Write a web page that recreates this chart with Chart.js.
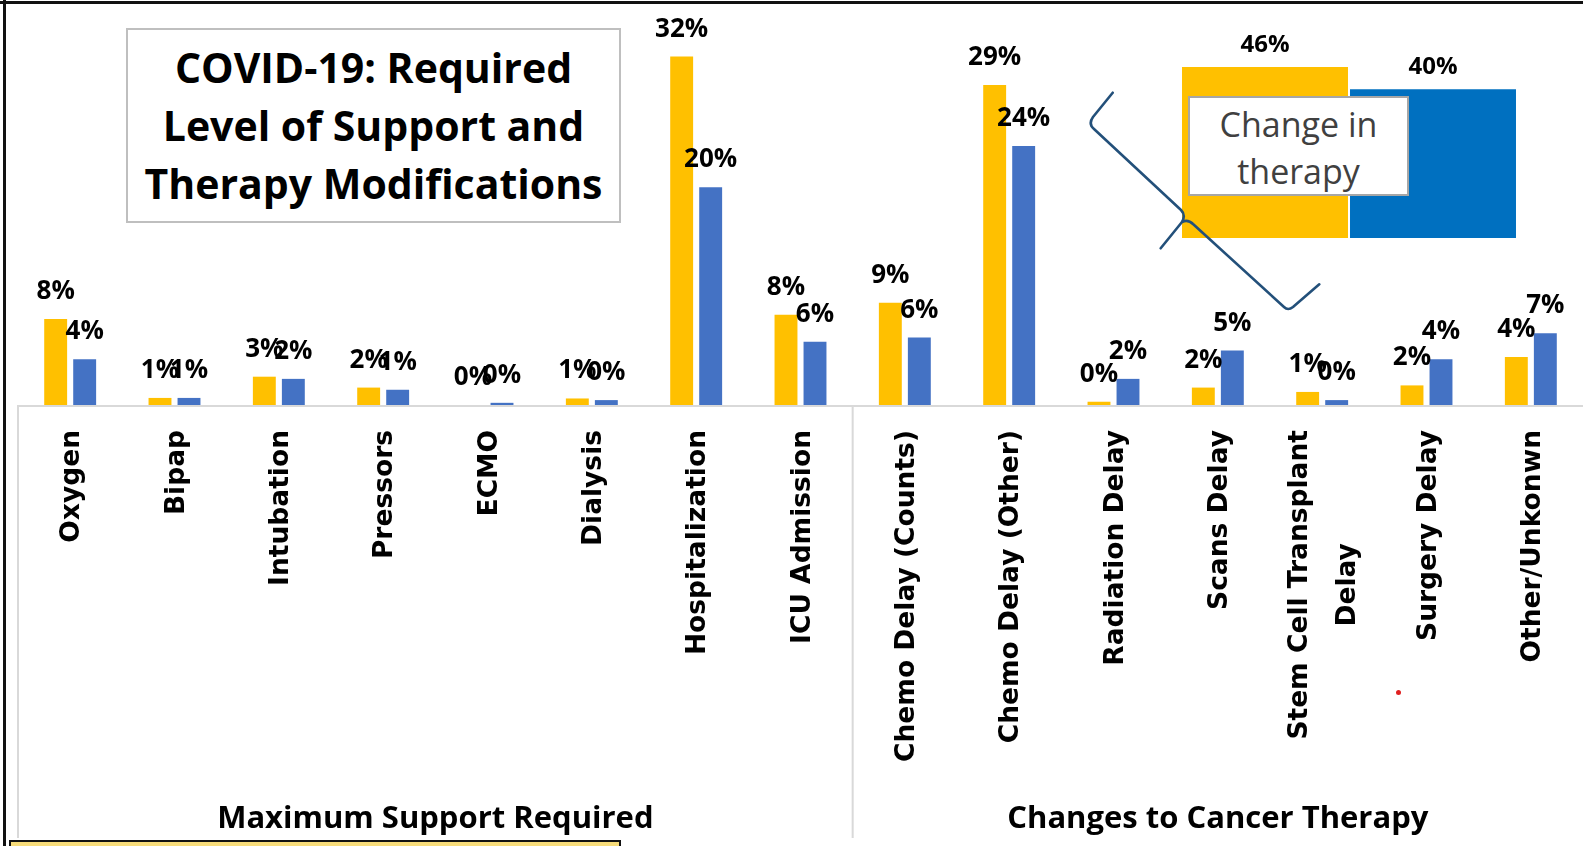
<!DOCTYPE html>
<html>
<head>
<meta charset="utf-8">
<script src="https://cdn.jsdelivr.net/npm/chart.js@4.4.0/dist/chart.umd.min.js"></script>
<style>
html,body{margin:0;padding:0;background:#fff;}
body{width:1583px;height:846px;position:relative;overflow:hidden;}
#main{position:absolute;left:0;top:0;}
#inset{position:absolute;left:1181px;top:20px;}
.frameTop{position:absolute;left:0;top:1px;width:1583px;height:3px;background:#111;}
.frameLeft{position:absolute;left:3px;top:0;width:3px;height:846px;background:#111;}
.titleBox{position:absolute;left:126px;top:28px;width:495px;height:195px;box-sizing:border-box;border:2px solid #BFBFBF;background:#fff;font-family:'Open Sans',sans-serif;font-weight:700;font-size:41px;line-height:58px;text-align:center;color:#000;padding-top:8px;}
.changeBox{position:absolute;left:1188px;top:96px;width:221px;height:100px;box-sizing:border-box;border:2px solid #A6A6A6;background:#fff;font-family:'Open Sans',sans-serif;font-size:34px;line-height:47px;text-align:center;color:#404040;padding-top:3px;}
.note{position:absolute;left:9px;top:840px;width:612px;height:20px;box-sizing:border-box;border:2px solid #111;background:#F7DC7A;}
.dot{position:absolute;left:1396px;top:690px;width:5px;height:5px;border-radius:50%;background:#E02020;}
#brace{position:absolute;left:0;top:0;}
</style>
</head>
<body>
<canvas id="main" width="1583" height="846"></canvas>
<div class="titleBox">COVID-19: Required<br>Level of Support and<br>Therapy Modifications</div>
<canvas id="inset" width="336" height="218"></canvas>
<div class="changeBox">Change in<br>therapy</div>
<svg id="brace" width="1583" height="846">
  <path d="M1112.7 92.7 L1093 117 Q1088 124 1094 129 L1181 210 Q1186 215 1182 222 L1160.7 248.3 M1182 222 Q1188 219 1193 224 L1284 307 Q1288 311 1293 307 L1319.3 284.3" fill="none" stroke="#23507A" stroke-width="2.6" stroke-linejoin="round" stroke-linecap="round"/>
</svg>
<div class="dot"></div>
<div class="frameTop"></div>
<div class="frameLeft"></div>
<div class="note"></div>
<script>
// ---- data ----
const categories = [
  'Oxygen', 'Bipap', 'Intubation', 'Pressors', 'ECMO', 'Dialysis',
  'Hospitalization', 'ICU Admission',
  'Chemo Delay (Counts)', 'Chemo Delay (Other)', 'Radiation Delay', 'Scans Delay',
  ['Stem Cell Transplant', 'Delay'], 'Surgery Delay', 'Other/Unkonwn'
];
const series1Name = 'Group 1';
const series2Name = 'Group 2';
const series1Values = [7.9, 0.65, 2.6, 1.6, 0, 0.6, 32.0, 8.3, 9.4, 29.4, 0.3, 1.6, 1.2, 1.8, 4.4];
const series2Values = [4.2, 0.65, 2.4, 1.4, 0.2, 0.45, 20.0, 5.8, 6.2, 23.8, 2.4, 5.0, 0.45, 4.2, 6.6];
const groupNames = ['Maximum Support Required', 'Changes to Cancer Therapy'];
const groupSpans = [[0, 7], [8, 14]];
const insetCategories = ['Group 1', 'Group 2'];
const insetValues = [46, 40];

const YELLOW = '#FFC000', BLUE = '#4472C4', INSET_BLUE = '#0070C0';

const overlayPlugin = {
  id: 'overlay',
  afterDatasetsDraw(chart) {
    const ctx = chart.ctx, xs = chart.scales.x, area = chart.chartArea;
    const catW = (area.right - area.left) / categories.length;
    ctx.save();
    // axis lines
    ctx.strokeStyle = '#D9D9D9';
    ctx.lineWidth = 2;
    ctx.beginPath();
    ctx.moveTo(area.left, area.bottom + 1);
    ctx.lineTo(area.right, area.bottom + 1);
    ctx.moveTo(area.left, area.bottom);
    ctx.lineTo(area.left, 838);
    const bx = (xs.getPixelForValue(groupSpans[0][1]) + xs.getPixelForValue(groupSpans[1][0])) / 2;
    ctx.moveTo(bx, area.bottom);
    ctx.lineTo(bx, 838);
    ctx.stroke();

    // data labels
    ctx.fillStyle = '#000';
    ctx.font = '700 26px "Open Sans"';
    ctx.textAlign = 'center';
    ctx.textBaseline = 'alphabetic';
    chart.data.datasets.forEach((ds, di) => {
      chart.getDatasetMeta(di).data.forEach((bar, i) => {
        ctx.fillText(Math.round(ds.data[i]) + '%', bar.x, bar.y - 20);
      });
    });

    // category tick labels (rotated)
    ctx.font = '700 26.5px "DejaVu Sans"';
    categories.forEach((lab, i) => {
      const x = xs.getPixelForValue(i);
      const lines = Array.isArray(lab) ? lab : [lab];
      ctx.save();
      ctx.translate(x, 430);
      ctx.rotate(-Math.PI / 2);
      if (lines.length === 1) {
        ctx.textAlign = 'right';
        ctx.fillText(lines[0], 0, 9);
      } else {
        const w = Math.max(...lines.map(l => ctx.measureText(l).width));
        ctx.textAlign = 'center';
        lines.forEach((l, k) => {
          ctx.fillText(l, -w / 2, 9 + (k - (lines.length - 1) / 2) * 48);
        });
      }
      ctx.restore();
    });

    // group labels
    ctx.font = '700 31px "Open Sans"';
    ctx.textAlign = 'center';
    groupNames.forEach((g, k) => {
      const l = xs.getPixelForValue(groupSpans[k][0]) - catW / 2;
      const r = xs.getPixelForValue(groupSpans[k][1]) + catW / 2;
      ctx.fillText(g, (l + r) / 2, 828);
    });
    ctx.restore();
  }
};

new Chart(document.getElementById('main'), {
  type: 'bar',
  data: {
    labels: categories,
    datasets: [
      { label: series1Name, data: series1Values, backgroundColor: YELLOW, borderWidth: 0 },
      { label: series2Name, data: series2Values, backgroundColor: BLUE, borderWidth: 0 }
    ]
  },
  options: {
    responsive: false,
    animation: false,
    devicePixelRatio: 1,
    layout: { padding: { left: 18, right: 0, top: 0, bottom: 441 } },
    datasets: { bar: { categoryPercentage: 0.556, barPercentage: 0.79 } },
    scales: {
      x: { display: false },
      y: { display: false, min: 0, max: 37.2 }
    },
    plugins: { legend: { display: false }, tooltip: { enabled: false } }
  },
  plugins: [overlayPlugin]
});

const insetLabelPlugin = {
  id: 'insetLabels',
  afterDatasetsDraw(chart) {
    const ctx = chart.ctx;
    ctx.save();
    ctx.fillStyle = '#000';
    ctx.font = '700 24px "Open Sans"';
    ctx.textAlign = 'center';
    chart.getDatasetMeta(0).data.forEach((bar, i) => {
      ctx.fillText(Math.round(insetValues[i]) + '%', bar.x, bar.y - 15);
    });
    ctx.restore();
  }
};

new Chart(document.getElementById('inset'), {
  type: 'bar',
  data: {
    labels: insetCategories,
    datasets: [{ label: 'Change in therapy', data: insetValues, backgroundColor: [YELLOW, INSET_BLUE], borderWidth: 0 }]
  },
  options: {
    responsive: false,
    animation: false,
    devicePixelRatio: 1,
    layout: { padding: 0 },
    datasets: { bar: { categoryPercentage: 1, barPercentage: 0.988 } },
    scales: {
      x: { display: false },
      y: { display: false, min: 0, max: 58.64 }
    },
    plugins: { legend: { display: false }, tooltip: { enabled: false } }
  },
  plugins: [insetLabelPlugin]
});
</script>
</body>
</html>
